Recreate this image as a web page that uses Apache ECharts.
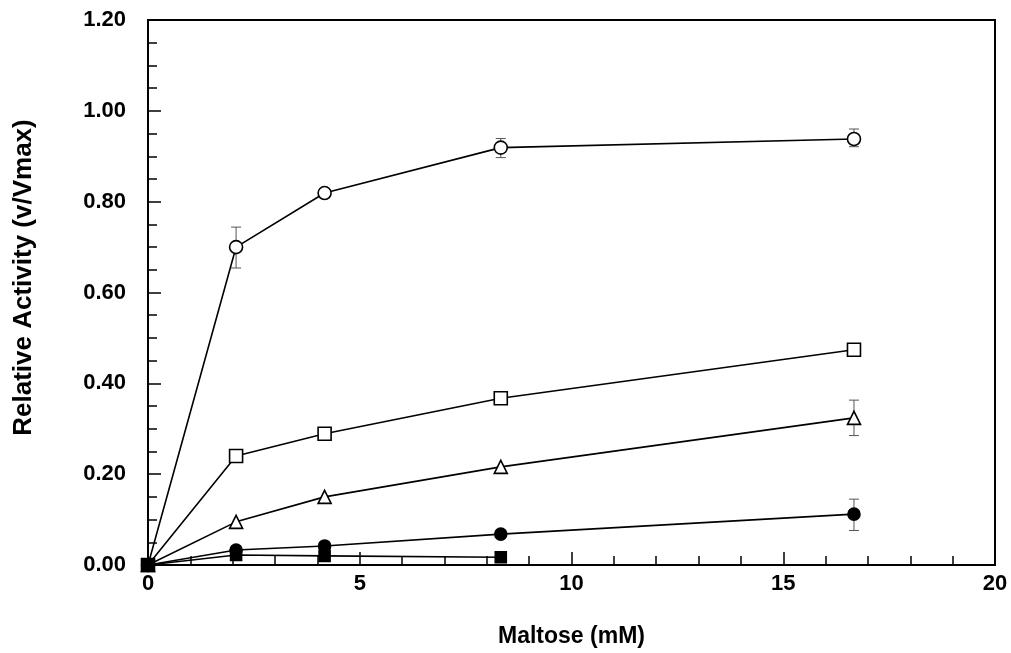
<!DOCTYPE html>
<html>
<head>
<meta charset="utf-8">
<script src="https://cdn.jsdelivr.net/npm/echarts@6/dist/echarts.min.js"></script>
<style>html,body{margin:0;padding:0;background:#fff;}#chart{width:1011px;height:653px;}</style>
</head>
<body>
<div id="chart"></div>
<script>
// Data
const maltose = [0, 2.08, 4.17, 8.33, 16.67];
const openCircle = [0, 0.700, 0.819, 0.919, 0.938];
const openSquare = [0, 0.240, 0.289, 0.367, 0.474];
const openTriangle = [0, 0.095, 0.150, 0.216, 0.324];
const filledCircle = [0, 0.033, 0.042, 0.068, 0.112];
const filledSquareX = [0, 2.08, 4.17, 8.33];
const filledSquare = [0, 0.022, 0.020, 0.017];
// error bars: [x, low, high]
const errOpenCircle = [[2.08, 0.654, 0.744], [8.33, 0.897, 0.939], [16.67, 0.921, 0.960]];
const errOpenTriangle = [[16.67, 0.285, 0.363]];
const errFilledCircle = [[16.67, 0.076, 0.145]];
const errAll = errOpenCircle.concat(errOpenTriangle, errFilledCircle);

const xTicks = [0, 5, 10, 15, 20];
const yTicks = [0, 0.2, 0.4, 0.6, 0.8, 1.0, 1.2];

function pairs(xs, ys) { return xs.map((x, i) => [x, ys[i]]); }

const chart = echarts.init(document.getElementById('chart'));
const font = 'Liberation Sans, Arial, sans-serif';
function lineSeries(data, symbol, size, filled) {
  return {
    type: 'line', data: data, symbol: symbol, symbolSize: size,
    showAllSymbol: true, z: 3,
    lineStyle: { color: '#000', width: 1.6 },
    itemStyle: { color: filled ? '#000' : '#fff', borderColor: '#000', borderWidth: 1.6 },
    emphasis: { disabled: true }, animation: false
  };
}
chart.setOption({
  animation: false,
  backgroundColor: '#fff',
  grid: { left: 148, right: 16, top: 20, bottom: 88, show: true, borderColor: '#000', borderWidth: 2, backgroundColor: 'transparent' },
  xAxis: {
    type: 'value', min: xTicks[0], max: xTicks[xTicks.length - 1], interval: 5,
    name: 'Maltose (mM)', nameLocation: 'middle', nameGap: 60,
    nameTextStyle: { fontFamily: font, fontWeight: 'bold', fontSize: 23, color: '#000' },
    axisLine: { show: true, lineStyle: { color: '#000', width: 2 } },
    axisTick: { show: true, inside: true, length: 13, lineStyle: { color: '#000', width: 1.5 } },
    minorTick: { show: true, splitNumber: 5, length: 9, lineStyle: { color: '#000', width: 1.5 } },
    axisLabel: { margin: 8, fontFamily: font, fontWeight: 'bold', fontSize: 22, color: '#000' },
    splitLine: { show: false }
  },
  yAxis: {
    type: 'value', min: yTicks[0], max: yTicks[yTicks.length - 1], interval: 0.2,
    name: 'Relative Activity (v/Vmax)', nameLocation: 'middle', nameGap: 111, nameRotate: 90,
    nameTextStyle: { fontFamily: font, fontWeight: 'bold', fontSize: 26, color: '#000', padding: [0, 0, 0, 30] },
    axisLine: { show: true, lineStyle: { color: '#000', width: 2 } },
    axisTick: { show: true, inside: true, length: 13, lineStyle: { color: '#000', width: 1.5 } },
    minorTick: { show: true, splitNumber: 4, length: 9, lineStyle: { color: '#000', width: 1.5 } },
    axisLabel: { margin: 22, fontFamily: font, fontWeight: 'bold', fontSize: 22, color: '#000',
      formatter: v => v.toFixed(2) },
    splitLine: { show: false }
  },
  series: [
    {
      type: 'custom', z: 1, data: errAll, animation: false,
      renderItem: function (params, api) {
        const x = api.value(0), lo = api.value(1), hi = api.value(2);
        const pLo = api.coord([x, lo]), pHi = api.coord([x, hi]);
        const w = 5;
        const st = { stroke: '#555', lineWidth: 1 };
        return { type: 'group', children: [
          { type: 'line', shape: { x1: pLo[0], y1: pLo[1], x2: pHi[0], y2: pHi[1] }, style: st },
          { type: 'line', shape: { x1: pLo[0] - w, y1: pLo[1], x2: pLo[0] + w, y2: pLo[1] }, style: st },
          { type: 'line', shape: { x1: pHi[0] - w, y1: pHi[1], x2: pHi[0] + w, y2: pHi[1] }, style: st }
        ]};
      }
    },
    lineSeries(pairs(maltose, openCircle), 'circle', 13, false),
    lineSeries(pairs(maltose, openSquare), 'rect', 13, false),
    lineSeries(pairs(maltose, openTriangle), 'triangle', 13, false),
    lineSeries(pairs(maltose, filledCircle), 'circle', 12, true),
    lineSeries(pairs(filledSquareX, filledSquare), 'rect', 11, true)
  ]
});
</script>
</body>
</html>
